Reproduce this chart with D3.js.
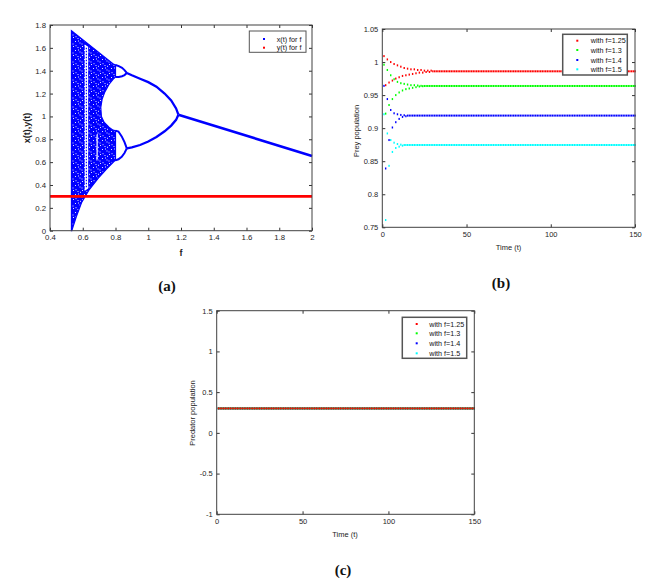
<!DOCTYPE html>
<html>
<head>
<meta charset="utf-8">
<script src="https://cdn.jsdelivr.net/npm/d3@7"></script>
<style>
body { margin: 0; background: #fff; }
</style>
</head>
<body>
<div id="fig"></div>
<script>
// ---- tick values ----
var fTicks = [0.4, 0.6, 0.8, 1, 1.2, 1.4, 1.6, 1.8, 2];
var xyTicks = [0, 0.2, 0.4, 0.6, 0.8, 1, 1.2, 1.4, 1.6, 1.8];
var timeTicks = [0, 50, 100, 150];
var preyTicks = [0.75, 0.8, 0.85, 0.9, 0.95, 1, 1.05];
var predTicks = [-1, -0.5, 0, 0.5, 1, 1.5];

// ---- (a) bifurcation diagram, points are [f, x] ----
var chaosOutline = [[0.531, 1.75], [0.79, 1.455], [0.80, 1.45], [0.80, 1.345], [0.785, 1.325],
  [0.76, 1.28], [0.735, 1.215], [0.718, 1.15], [0.71, 1.08], [0.714, 1.0], [0.73, 0.95],
  [0.76, 0.905], [0.785, 0.88], [0.80, 0.875], [0.80, 0.615], [0.79, 0.605], [0.745, 0.54],
  [0.695, 0.46], [0.64, 0.36], [0.594, 0.25], [0.56, 0.12], [0.533, 0], [0.531, 0]];
var windowWide = [[0.612, 1.63], [0.633, 1.61], [0.633, 0.37], [0.612, 0.35]];
var windowNarrow = [[0.683, 0.84], [0.693, 0.85], [0.693, 0.63], [0.683, 0.61]];
var windowOrbit = [[0.622, 1.6], [0.622, 0.38]];
var upBubbleTop = [[0.80, 1.45], [0.82, 1.44], [0.84, 1.425], [0.855, 1.405], [0.869, 1.38]];
var upBubbleBot = [[0.80, 1.345], [0.82, 1.345], [0.84, 1.352], [0.855, 1.362], [0.869, 1.38]];
var lowBubbleTop = [[0.80, 0.875], [0.818, 0.868], [0.838, 0.825], [0.855, 0.775], [0.869, 0.72]];
var lowBubbleBot = [[0.80, 0.615], [0.818, 0.625], [0.838, 0.647], [0.855, 0.68], [0.869, 0.72]];
var p2F = [0.869, 0.90, 0.95, 1.00, 1.05, 1.10, 1.14, 1.17, 1.184];
var p2Upper = [1.38, 1.36, 1.33, 1.30, 1.26, 1.20, 1.14, 1.07, 1.015];
var p2Lower = [0.72, 0.73, 0.75, 0.78, 0.82, 0.87, 0.92, 0.97, 1.015];
var p1F = [1.184, 2];
var p1X = [1.015, 0.654];
var yF = [0.4, 2];
var yVal = [0.3, 0.3];

// ---- (b) prey, transient values from t = 1, then the level held to t = 150 ----
var seriesNames = ["with f=1.25", "with f=1.3", "with f=1.4", "with f=1.5"];
var seriesColors = ["#ff0000", "#00ff00", "#0000ff", "#00ffff"];
var preyTransient = [
  [1.009, 0.965, 1.004, 0.969, 1.000, 0.972, 0.997, 0.975, 0.995, 0.977, 0.993, 0.979, 0.991, 0.980, 0.990,
   0.981, 0.989, 0.982, 0.989, 0.983, 0.988, 0.984, 0.988, 0.984, 0.987, 0.985, 0.987, 0.985, 0.987, 0.986],
  [0.996, 0.922, 0.988, 0.935, 0.980, 0.944, 0.974, 0.950, 0.970, 0.954, 0.968, 0.957, 0.967, 0.959, 0.966,
   0.960, 0.965, 0.961, 0.965, 0.962, 0.9645, 0.963, 0.964, 0.9635],
  [0.964, 0.839, 0.944, 0.882, 0.9275, 0.901, 0.9225, 0.909, 0.921, 0.914, 0.920, 0.917, 0.9195, 0.918],
  [0.921, 0.761, 0.892, 0.843, 0.882, 0.864, 0.878, 0.870, 0.876, 0.872, 0.875, 0.8735]
];
var preyLevel = [0.986, 0.9638, 0.919, 0.8745];
// ---- (c) predator level ----
var predLevel = [0.3, 0.3, 0.3, 0.3];
var tEnd = 150;

var SANS = "'Liberation Sans', Arial, sans-serif";
var SERIF = "'Liberation Serif', 'Times New Roman', serif";

var svg = d3.select("#fig").append("svg").attr("width", 664).attr("height", 580)
  .style("font-family", SANS);
svg.append("rect").attr("width", 664).attr("height", 580).attr("fill", "#fff");

// speckled fill for the chaotic band
var pat = svg.append("defs").append("pattern").attr("id", "speckle")
  .attr("patternUnits", "userSpaceOnUse").attr("width", 9).attr("height", 9);
pat.append("rect").attr("width", 9).attr("height", 9).attr("fill", "#0000ff");
[[1, 1], [5.5, 2], [3, 5], [7.5, 6.5], [0.5, 7.5], [6, 4.5], [3.5, 0.2], [8, 2.8]].forEach(function(p) {
  pat.append("rect").attr("x", p[0]).attr("y", p[1]).attr("width", 1).attr("height", 1).attr("fill", "#e0e0ff");
});

function frame(x, y, xt, yt, fs) {
  var g = svg.append("g");
  var xr = x.range(), yr = y.range();
  function style(sel) {
    sel.attr("font-family", null).attr("font-size", null);
    sel.select(".domain").remove();
    sel.selectAll("line").attr("stroke", "#333");
    sel.selectAll("text").attr("fill", "#262626").style("font-size", fs + "px");
  }
  g.append("g").attr("transform", "translate(0," + yr[0] + ")")
    .call(d3.axisBottom(x).tickValues(xt).tickSizeInner(-3).tickSizeOuter(0).tickPadding(4).tickFormat(String))
    .call(style);
  g.append("g").attr("transform", "translate(0," + yr[1] + ")")
    .call(d3.axisTop(x).tickValues(xt).tickSizeInner(-3).tickSizeOuter(0).tickFormat(""))
    .call(style);
  g.append("g").attr("transform", "translate(" + xr[0] + ",0)")
    .call(d3.axisLeft(y).tickValues(yt).tickSizeInner(-3).tickSizeOuter(0).tickPadding(4).tickFormat(String))
    .call(style);
  g.append("g").attr("transform", "translate(" + xr[1] + ",0)")
    .call(d3.axisRight(y).tickValues(yt).tickSizeInner(-3).tickSizeOuter(0).tickFormat(""))
    .call(style);
  g.append("rect").attr("x", xr[0]).attr("y", yr[1])
    .attr("width", xr[1] - xr[0]).attr("height", yr[0] - yr[1])
    .attr("fill", "none").attr("stroke", "#404040").attr("stroke-width", 1);
}

function legend(x0, y0, w, h, names, colors, rows, mx, tx, sw) {
  var g = svg.append("g");
  g.append("rect").attr("x", x0).attr("y", y0).attr("width", w).attr("height", h)
    .attr("fill", "#fff").attr("stroke", "#555").attr("stroke-width", sw);
  names.forEach(function(n, i) {
    g.append("rect").attr("x", mx - 1).attr("y", rows[i] - 1).attr("width", 2).attr("height", 2).attr("fill", colors[i]);
    g.append("text").attr("x", tx).attr("y", rows[i] + 2.5).style("font-size", "7.2px").attr("fill", "#111").text(n);
  });
}

// ================= (a) =================
var xA = d3.scaleLinear().domain([0.4, 2]).range([50, 312]);
var yA = d3.scaleLinear().domain([0, 1.8]).range([230.7, 25]);
var lineA = d3.line().x(function(d) { return xA(d[0]); }).y(function(d) { return yA(d[1]); });
var gA = svg.append("g");

gA.append("path").attr("d", lineA(chaosOutline) + "Z").attr("fill", "url(#speckle)")
  .attr("stroke", "#0000ff").attr("stroke-width", 1.2);
gA.append("path").attr("d", lineA(windowWide) + "Z").attr("fill", "#fff");
gA.append("path").attr("d", lineA(windowNarrow) + "Z").attr("fill", "#fff").attr("fill-opacity", 0.75);
gA.append("path").attr("d", lineA(windowOrbit)).attr("stroke", "#0000ff")
  .attr("stroke-width", 1.2).attr("stroke-dasharray", "1.5,1.5").attr("fill", "none");
[upBubbleTop, upBubbleBot, lowBubbleTop, lowBubbleBot].forEach(function(b) {
  gA.append("path").attr("d", lineA(b)).attr("fill", "none").attr("stroke", "#0000ff").attr("stroke-width", 2);
});
gA.append("path").attr("d", lineA(p2F.map(function(f, i) { return [f, p2Upper[i]]; })))
  .attr("fill", "none").attr("stroke", "#0000ff").attr("stroke-width", 2.3);
gA.append("path").attr("d", lineA(p2F.map(function(f, i) { return [f, p2Lower[i]]; })))
  .attr("fill", "none").attr("stroke", "#0000ff").attr("stroke-width", 2.3);
gA.append("path").attr("d", lineA(p1F.map(function(f, i) { return [f, p1X[i]]; })))
  .attr("fill", "none").attr("stroke", "#0000ff").attr("stroke-width", 2.6);
gA.append("path").attr("d", lineA(yF.map(function(f, i) { return [f, yVal[i]]; })))
  .attr("fill", "none").attr("stroke", "#ff0000").attr("stroke-width", 2.6);

frame(xA, yA, fTicks, xyTicks, 7.8);
legend(249.3, 31, 56.7, 21.3, ["x(t) for f", "y(t) for f"], ["#0000ff", "#ff0000"], [39, 47.7], 264, 276.7, 1);
svg.append("text").attr("transform", "translate(30,128)rotate(-90)").attr("text-anchor", "middle")
  .style("font-size", "9px").attr("font-weight", "bold").attr("fill", "#222").text("x(t),y(t)");
svg.append("text").attr("x", 181).attr("y", 256).attr("text-anchor", "middle")
  .style("font-size", "9px").attr("font-weight", "bold").attr("fill", "#222").text("f");

// ================= (b) =================
var xB = d3.scaleLinear().domain([0, 150]).range([382.3, 635]);
var yB = d3.scaleLinear().domain([0.75, 1.05]).range([227.3, 29]);
var tAll = d3.range(1, tEnd + 1);
var gB = svg.append("g");
[3, 2, 1, 0].forEach(function(k) {
  var pts = tAll.map(function(t) {
    var tr = preyTransient[k];
    return [t, t <= tr.length ? tr[t - 1] : preyLevel[k]];
  });
  gB.selectAll(null).data(pts).enter().append("rect")
    .attr("x", function(d) { return xB(d[0]) - 0.7; })
    .attr("y", function(d) { return yB(d[1]) - 1; })
    .attr("width", 1.4).attr("height", 2)
    .attr("fill", seriesColors[k]);
});
frame(xB, yB, timeTicks, preyTicks, 7.5);
legend(562.7, 34.3, 64.6, 40.7, seriesNames, seriesColors, [40.7, 50, 60, 69.3], 577.3, 590.7, 1.5);
svg.append("text").attr("transform", "translate(359,131)rotate(-90)").attr("text-anchor", "middle")
  .style("font-size", "7.5px").attr("fill", "#222").text("Prey population");
svg.append("text").attr("x", 508.5).attr("y", 250).attr("text-anchor", "middle")
  .style("font-size", "7.5px").attr("fill", "#222").text("Time (t)");

// ================= (c) =================
var xC = d3.scaleLinear().domain([0, 150]).range([216.7, 474.3]);
var yC = d3.scaleLinear().domain([-1, 1.5]).range([514.3, 310.7]);
var gC = svg.append("g");
[3, 2, 1, 0].forEach(function(k) {
  var pts = tAll.map(function(t) { return [t, predLevel[k]]; });
  gC.selectAll(null).data(pts).enter().append("rect")
    .attr("x", function(d) { return xC(d[0]) - 0.7; })
    .attr("y", function(d) { return yC(d[1]) - 1; })
    .attr("width", 1.4).attr("height", 2)
    .attr("fill", seriesColors[k]);
});
frame(xC, yC, timeTicks, predTicks, 7.5);
legend(402.3, 317.3, 64.4, 41, seriesNames, seriesColors, [324, 333.3, 343.3, 353.3], 416.7, 429.3, 1.5);
svg.append("text").attr("transform", "translate(195,413)rotate(-90)").attr("text-anchor", "middle")
  .style("font-size", "7.5px").attr("fill", "#222").text("Predator population");
svg.append("text").attr("x", 345).attr("y", 537).attr("text-anchor", "middle")
  .style("font-size", "7.5px").attr("fill", "#222").text("Time (t)");

// panel letters
[["(a)", 167, 291], ["(b)", 501, 288], ["(c)", 343, 575]].forEach(function(p) {
  svg.append("text").attr("x", p[1]).attr("y", p[2]).attr("text-anchor", "middle")
    .style("font-family", SERIF).style("font-size", "15px")
    .attr("font-weight", "bold").attr("fill", "#111").text(p[0]);
});
</script>
</body>
</html>
